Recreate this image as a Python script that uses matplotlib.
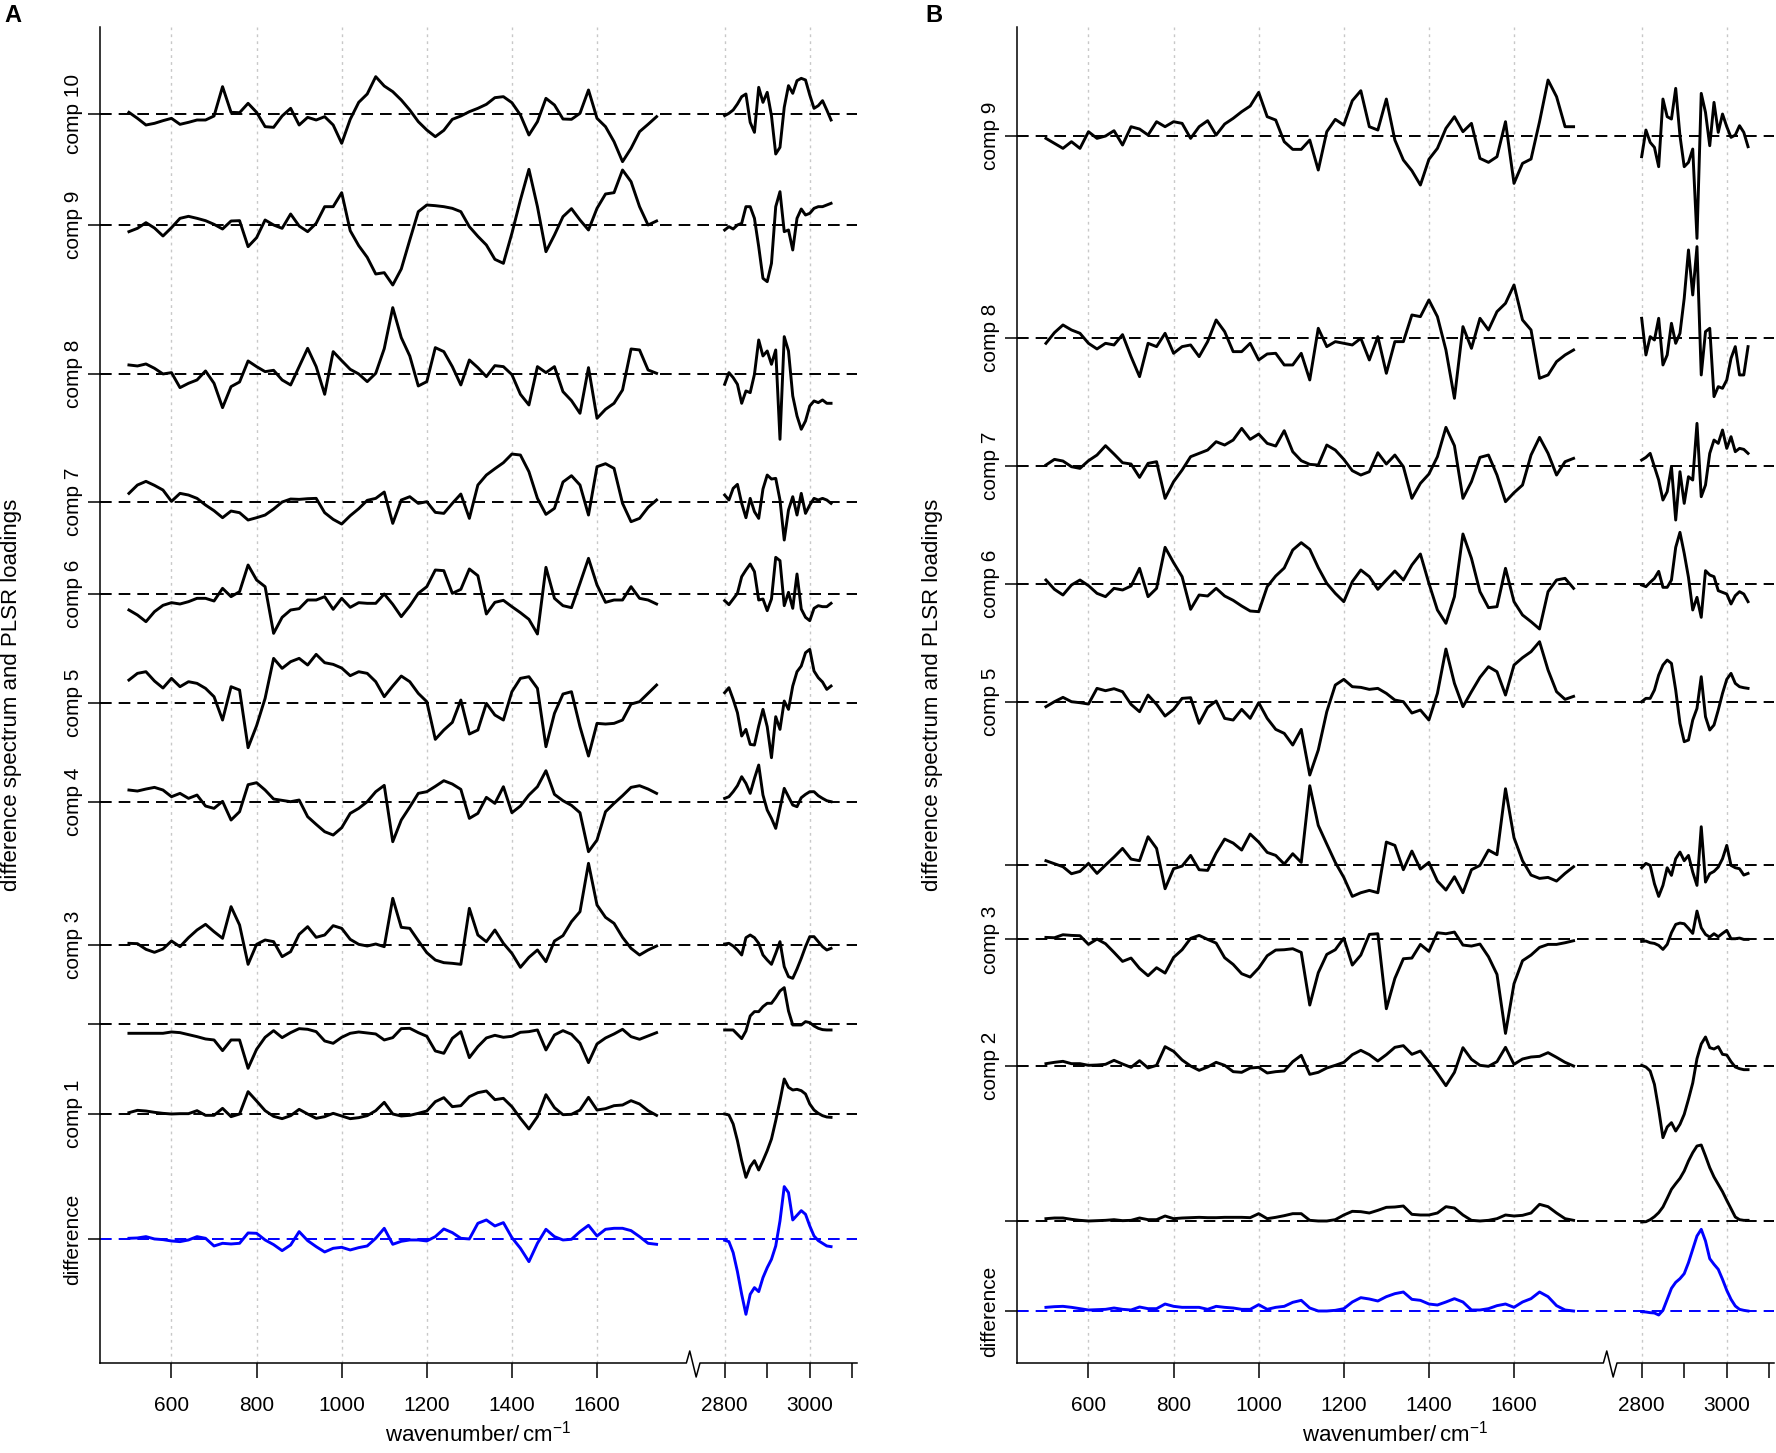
import numpy as np
import matplotlib.pyplot as plt

plt.rcParams['font.family'] = ['Liberation Sans', 'DejaVu Sans']
plt.rcParams['mathtext.default'] = 'regular'

# sampling grid of the two spectral windows (cm^-1)
wn_low = np.arange(500, 1741, 20)
wn_high = np.arange(2800, 3051, 10)
GAP = 900          # 1800-2700 cm-1 is cut out of the x axis
BREAK_AT = 1826    # axis break, in shifted units
SCALE = 1 / 3      # loading units -> stacking units

xticks_wn = [600, 800, 1000, 1200, 1400, 1600, 2800, 2900, 3000, 3100]
xtick_labels = ['600', '800', '1000', '1200', '1400', '1600', '2800', '', '3000', '']
grid_wn = [600, 800, 1000, 1200, 1400, 1600, 2800, 3000]

# ---------------- panel A ----------------
a_diff = [3, 4, 8, 1, -1, -5, -7, -2, 8, 3,
          -20, -12, -14, -12, 19, 18, -2, -16, -34, -17,
          23, -4, -22, -38, -27, -24, -32, -25, -20, 3,
          33, -15, -6, -2, -2, -5, 8, 31, 20, 3,
          1, 48, 58, 40, 50, 5, -27, -67, -12, 30,
          8, -2, 0, 23, 42, 10, 30, 33, 33, 26,
          8, -12, -15,
          # 2800-3050
          -3, -7, -40, -97, -165, -225, -165, -145, -157, -115,
          -85, -60, -20, 55, 158, 140, 58, 72, 86, 75,
          40, 10, -4, -12, -20, -22]
a_comp1 = [4, 11, 9, 5, 2, 0, 1, 1, 10, -4,
           -4, 17, -8, 0, 67, 39, 10, -7, -14, -5,
           14, 0, -13, -8, 2, -6, -14, -11, -5, 10,
           35, 0, -6, -4, 2, 9, 37, 49, 22, 25,
           52, 64, 69, 43, 47, 22, -13, -45, -8, 58,
           19, -2, -1, 12, 50, 12, 16, 25, 27, 40,
           30, 10, -4,
           0, -3, -30, -80, -140, -190, -158, -140, -168, -140,
           -110, -75, -20, 40, 105, 80, 72, 74, 70, 60,
           30, 12, 2, -5, -9, -10]
a_comp2 = [-27, -27, -27, -27, -27, -23, -25, -31, -37, -44,
           -47, -79, -47, -47, -132, -75, -39, -19, -40, -25,
           -13, -15, -22, -50, -57, -39, -27, -23, -26, -29,
           -47, -40, -13, -12, -25, -36, -80, -87, -42, -22,
           -100, -67, -41, -33, -39, -36, -24, -22, -17, -77,
           -32, -19, -30, -57, -115, -59, -41, -29, -15, -37,
           -45, -35, -25,
           -17, -17, -17, -30, -43, -20, 25, 38, 38, 53,
           63, 63, 80, 100, 110, 40, -2, -2, -2, 8,
           5, -5, -12, -16, -17, -17]
a_comp3 = [5, 4, -13, -22, -12, 12, -5, 22, 45, 62,
           40, 20, 115, 60, -58, 2, 15, 10, -35, -20,
           32, 55, 23, 30, 58, 50, 17, 2, -3, 3,
           -5, 140, 53, 50, 13, -23, -45, -53, -55, -58,
           110, 30, 10, 45, 5, -25, -67, -37, -15, -50,
           12, 28, 70, 100, 245, 120, 83, 65, 23, -10,
           -30, -15, -3,
           3, 5, -3, -15, -30, 22, 30, 22, 5, -30,
           -45, -58, -25, 10, -65, -95, -100, -72, -40, -5,
           25, 25, 10, -5, -15, -10]
a_comp4 = [35, 32, 38, 43, 35, 15, 25, 10, 20, -13,
           -20, 1, -55, -30, 51, 57, 35, 8, 4, 0,
           5, -45, -68, -90, -100, -78, -35, -20, 0, 30,
           49, -120, -55, -16, 25, 30, 46, 63, 53, 37,
           -50, -35, 13, -5, 45, -33, -13, 20, 45, 93,
           22, 3, -11, -33, -150, -115, -30, -5, 18, 43,
           48, 38, 25,
           10, 15, 30, 48, 75, 55, 25, 70, 110, 20,
           -25, -50, -80, -20, 40, 15, -10, -15, 12, 22,
           30, 30, 18, 10, 3, 0]
a_comp5 = [68, 88, 93, 65, 44, 73, 48, 63, 58, 43,
           18, -52, 48, 38, -135, -69, 13, 133, 103, 123,
           133, 113, 145, 120, 115, 104, 81, 93, 88, 63,
           18, 50, 80, 63, 28, 3, -110, -82, -59, 8,
           -94, -82, -2, -37, -52, 33, 73, 78, 43, -132,
           -32, 26, 33, -72, -160, -62, -64, -62, -52, -4,
           3, 28, 53,
           30, 45, 10, -30, -100, -80, -125, -127, -70, -20,
           -72, -165, -42, -80, 5, -20, 50, 93, 110, 150,
           160, 95, 75, 62, 40, 50]
a_comp6 = [-48, -63, -83, -53, -34, -26, -30, -23, -13, -13,
           -21, 17, -8, 7, 87, 42, 22, -118, -70, -48,
           -44, -18, -18, -8, -46, -13, -40, -26, -28, -28,
           0, -31, -68, -36, 2, 22, 72, 70, 2, 14,
           75, 55, -60, -25, -19, -38, -56, -76, -120, 80,
           -13, -35, -41, 32, 107, 27, -25, -18, -18, 22,
           -13, -18, -30,
           -20, -32, -15, 2, 52, 72, 90, 67, -18, -15,
           -50, -15, 110, 100, -35, 5, -43, 60, -45, -70,
           -80, -43, -35, -38, -38, -28]
a_comp7 = [25, 50, 61, 49, 35, 1, 25, 20, 10, -10,
           -27, -48, -28, -33, -55, -48, -40, -22, -1, 8,
           7, 9, 10, -33, -53, -67, -42, -21, 4, 10,
           29, -65, 5, 15, -5, 0, -32, -35, -5, 23,
           -50, 50, 80, 99, 117, 143, 140, 90, 10, -38,
           -20, 59, 78, 50, -40, 105, 114, 100, -5, -60,
           -50, -17, 5,
           20, 5, 40, 52, -5, -48, 10, -30, -50, 38,
           80, 68, 70, 5, -115, -25, 15, -40, 25, -35,
           -10, 10, 5, 10, 5, -5]
a_comp8 = [28, 25, 31, 18, 1, 5, -40, -27, -17, 10,
           -27, -100, -37, -23, 40, 23, 8, 12, -17, -32,
           23, 78, 23, -60, 68, 41, 15, 1, -22, 3,
           77, 200, 110, 55, -35, -22, 80, 68, 23, -32,
           43, 20, -7, 26, 23, -1, -60, -92, 23, 5,
           23, -52, -79, -117, 20, -132, -105, -87, -47, 76,
           73, 13, 3,
           -30, 5, -10, -30, -87, -50, -55, 0, 103, 55,
           70, 30, 73, -195, 113, 70, -65, -125, -165, -140,
           -95, -80, -85, -77, -87, -87]
a_comp9 = [-20, -10, 7, -9, -33, -8, 20, 26, 20, 13,
           2, -12, 12, 13, -65, -38, 15, 0, -10, 33,
           -3, -20, 5, 55, 55, 97, -17, -62, -97, -147,
           -143, -180, -132, -45, 40, 60, 58, 55, 50, 40,
           -5, -34, -60, -103, -115, -25, 75, 167, 55, -80,
           -30, 25, 49, 15, -15, 50, 93, 97, 165, 130,
           55, 0, 12,
           -15, -5, -12, 0, 5, 55, 55, 20, -65, -160,
           -170, -115, 55, 100, -20, -15, -75, 20, 48, 30,
           35, 50, 55, 55, 60, 65]
a_comp10 = [5, -13, -33, -28, -20, -13, -31, -25, -18, -18,
            -6, 82, 5, 4, 32, 5, -38, -40, -6, 17,
            -33, -10, -18, -8, -33, -88, -16, 35, 60, 112,
            84, 67, 42, 12, -23, -48, -68, -49, -16, -6,
            7, 17, 29, 49, 52, 34, -3, -63, -23, 47,
            27, -15, -16, 2, 72, -13, -38, -83, -143, -103,
            -53, -31, -8,
            -5, 2, 12, 30, 52, 60, -25, -55, 80, 35,
            65, -5, -120, -100, 20, 85, 62, 100, 107, 102,
            57, 17, 25, 40, 12, -18]

a_traces = [a_diff, a_comp1, a_comp2, a_comp3, a_comp4, a_comp5,
            a_comp6, a_comp7, a_comp8, a_comp9, a_comp10]
a_offsets = [123.7, 249, 338.7, 418, 561.3, 660.3, 769, 861.3, 988.7, 1138, 1249]
a_labels = ['difference', 'comp 1', '', 'comp 3', 'comp 4', 'comp 5',
            'comp 6', 'comp 7', 'comp 8', 'comp 9', 'comp 10']

# ---------------- panel B ----------------
b_diff = [11, 13, 14, 11, 7, 3, 4, 5, 9, 5,
          3, 12, 7, 7, 21, 14, 11, 11, 11, 5,
          14, 11, 9, 5, 5, 19, 5, 11, 14, 26,
          32, 9, 0, 0, 2, 7, 27, 40, 36, 30,
          43, 52, 57, 35, 32, 21, 18, 27, 37, 27,
          3, 3, 7, 16, 21, 11, 27, 37, 57, 43,
          16, 3, 0,
          -2, -3, -5, -6, -12, 2, 35, 68, 86, 97,
          112, 145, 185, 225, 245, 210, 157, 140, 125, 95,
          62, 35, 15, 5, 2, 0]
b_comp1 = [7, 9, 9, 5, 2, 0, 1, 2, 4, 1,
           2, 9, 4, 4, 15, 7, 9, 10, 11, 10,
           10, 11, 11, 11, 10, 22, 7, 11, 16, 22,
           22, 2, 0, 0, 4, 18, 29, 28, 24, 32,
           41, 42, 45, 20, 18, 18, 24, 43, 39, 18,
           2, 0, 2, 7, 18, 15, 17, 24, 50, 43,
           24, 7, 2,
           -3, -2, 4, 13, 25, 42, 68, 95, 112, 128,
           150, 180, 205, 225, 228, 195, 160, 132, 110, 88,
           62, 37, 12, 4, 2, 2]
b_comp2 = [7, 11, 14, 7, 7, 2, 3, 5, 17, 6,
           -4, 16, -6, 2, 58, 44, 18, 0, -13, -3,
           11, 2, -17, -19, -6, -4, -21, -17, -15, 13,
           32, -25, -19, -6, 2, 11, 34, 47, 34, 15,
           34, 56, 61, 35, 45, 13, -22, -59, -19, 55,
           20, 2, -1, 13, 56, 5, 21, 27, 29, 40,
           26, 11, 0,
           2, -3, -15, -55, -130, -215, -183, -170, -195, -175,
           -145, -100, -51, 22, 66, 87, 55, 51, 58, 35,
           33, 13, -3, -8, -11, -11]
b_comp3 = [6, 5, 14, 12, 11, -15, 1, -13, -39, -66,
           -56, -87, -109, -85, -101, -54, -31, 3, 12, 0,
           -11, -55, -75, -103, -113, -86, -49, -32, -31, -28,
           -39, -197, -100, -45, -31, 4, -77, -47, 15, 17,
           -208, -117, -58, -56, -15, -36, 20, 17, 22, -17,
           -20, -14, -52, -105, -282, -133, -64, -47, -24, -15,
           -15, -10, -4,
           -6, -5, -10, -12, -18, -30, -15, 20, 45, 49,
           47, 33, 18, 85, 35, 15, 7, 17, 8, 18,
           27, 2, 2, 4, 0, 0]
b_comp4 = [14, 5, -4, -25, -18, 6, -24, 1, 25, 51,
           19, 14, 86, 51, -70, -10, -2, 30, -13, -15,
           37, 79, 67, 46, 94, 70, 39, 30, 4, 35,
           9, 239, 120, 64, 9, -36, -93, -82, -75, -82,
           70, 60, -13, 43, -11, 9, -47, -74, -34, -82,
           -13, 0, 46, 32, 230, 83, 14, -29, -39, -36,
           -47, -24, -4,
           -7, 6, 0, -55, -93, -60, -7, -30, 20, 40,
           14, 30, -20, -60, 116, -50, -25, -18, -5, 20,
           60, 0, -7, -10, -29, -24]
b_comp5 = [-15, 0, 13, 0, -3, -7, 40, 33, 39, 30,
           -8, -30, 20, -8, -43, -23, 10, 12, -65, -17,
           2, -50, -55, -23, -50, -3, -50, -83, -95, -130,
           -83, -220, -145, -30, 50, 67, 45, 43, 37, 40,
           25, 5, 0, -34, -25, -55, 25, 158, 55, -15,
           30, 73, 105, 90, 20, 110, 132, 150, 180, 95,
           30, 7, 16,
           0, 10, 10, 35, 80, 110, 125, 115, 35, -65,
           -120, -115, -55, -20, 75, -45, -85, -70, -25, 25,
           67, 85, 55, 45, 42, 40]
b_comp6 = [12, -16, -33, -3, 12, -5, -28, -38, -13, -18,
           -6, 47, -38, -13, 110, 64, 22, -76, -33, -36,
           -13, -36, -49, -66, -81, -83, -8, 24, 48, 102,
           124, 104, 49, 2, -28, -53, 7, 42, 22, -16,
           12, 39, 12, 57, 90, 2, -78, -118, -38, 150,
           77, -23, -71, -68, 47, -53, -93, -113, -135, -23,
           12, 17, -13,
           -3, -8, 5, 17, 38, -10, -10, 12, 110, 155,
           92, 20, -78, -40, -100, 40, 27, 22, -20, -25,
           -30, -60, -35, -23, -30, -53]
b_comp7 = [2, 19, 14, -3, -8, 15, 32, 60, 35, 9,
           5, -35, 7, 12, -98, -48, -13, 27, 37, 47,
           72, 62, 77, 112, 79, 95, 67, 59, 105, 42,
           15, 4, 2, 62, 47, 19, -15, -28, -18, 39,
           5, 32, -3, -98, -53, -25, 27, 115, 60, -98,
           -48, 25, 32, -28, -108, -81, -58, 32, 85, 37,
           -28, 12, 22,
           17, 25, 37, -3, -43, -103, -78, -3, -163, -18,
           -113, -33, -43, 127, -93, -58, 37, 77, 67, 107,
           52, 87, 42, 52, 49, 37]
b_comp8 = [-15, 17, 40, 25, 15, -15, -32, -15, -20, 11,
           -55, -115, -15, -25, 15, -45, -25, -20, -55, -10,
           55, 20, -40, -40, -15, -65, -47, -45, -80, -80,
           -45, -125, 30, -25, -10, -15, -20, 0, -65, 5,
           -105, -10, -10, 70, 65, 115, 65, -35, -180, 35,
           -30, 60, 25, 80, 105, 160, 55, 25, -120, -110,
           -70, -50, -35,
           60, -50, 5, -5, 60, -80, -50, 45, -15, 15,
           120, 265, 130, 275, -110, 20, 30, -175, -145, -150,
           -125, -60, -25, -110, -110, -25]
b_comp9 = [-8, -23, -38, -18, -38, 12, -8, -1, 15, -28,
           27, 20, 2, 42, 27, 42, 37, -8, 27, 45,
           2, 35, 52, 72, 89, 130, 57, 47, -18, -41,
           -41, -13, -103, 12, 49, 32, 105, 135, 27, 17,
           110, -13, -73, -105, -148, -71, -38, 22, 57, 12,
           37, -68, -80, -63, 42, -143, -83, -70, 42, 167,
           117, 27, 27,
           -63, 17, -20, -35, -93, 110, 57, 50, 142, 0,
           -93, -80, -40, -308, 127, 70, -30, 100, 10, 65,
           27, -5, 2, 30, 10, -33]

b_traces = [b_diff, b_comp1, b_comp2, b_comp3, b_comp4,
            b_comp5, b_comp6, b_comp7, b_comp8, b_comp9]
b_offsets = [52, 142, 297, 423.6, 497.6, 661.3, 779, 897.3, 1024.7, 1227.3]
b_labels = ['difference', '', 'comp 2', 'comp 3', '', 'comp 5',
            'comp 6', 'comp 7', 'comp 8', 'comp 9']

W, H = 1776, 1453
XLIM = (432, 2211)


def shift(wn):
    wn = np.asarray(wn, dtype=float)
    return np.where(wn > 2000, wn - GAP, wn)


def draw_panel(ax, traces, offsets, labels):
    n_low = len(wn_low)
    for x in shift(grid_wn):
        ax.axvline(x, color='#c8c8c8', lw=1.0, dashes=(2, 3), zorder=0)
    for i, (vals, off) in enumerate(zip(traces, offsets)):
        col = '#0000ff' if i == 0 else 'black'
        vals = np.asarray(vals, dtype=float)
        assert len(vals) == n_low + len(wn_high)
        ax.axhline(off, color=col, lw=1.4, dashes=(6, 3.6), zorder=1)
        ax.plot(wn_low, off + vals[:n_low] * SCALE, color=col, lw=2.1,
                solid_joinstyle='round', zorder=3)
        ax.plot(shift(wn_high), off + vals[n_low:] * SCALE, color=col, lw=2.1,
                solid_joinstyle='round', zorder=3)

    ax.set_xlim(*XLIM)
    ax.set_ylim(0, 1336)
    for s in ['top', 'right', 'bottom']:
        ax.spines[s].set_visible(False)
    ax.spines['left'].set_linewidth(1.1)

    # bottom axis line with a break mark
    b = BREAK_AT
    ax.plot([XLIM[0], b - 16, b - 8, b + 7, b + 16, XLIM[1]],
            [0, 0, 0.009, -0.0105, 0, 0],
            transform=ax.get_xaxis_transform(), color='black', lw=1.1,
            clip_on=False, zorder=5)

    ax.set_xticks(shift(xticks_wn))
    ax.set_xticklabels(xtick_labels)
    ax.tick_params(axis='x', length=10.8, width=1.1, pad=13, labelsize=15)
    ax.set_yticks(offsets)
    ax.set_yticklabels(labels, rotation=90, va='center')
    ax.tick_params(axis='y', length=8.6, width=1.1, pad=4, labelsize=15)


fig = plt.figure(figsize=(W / 100, H / 100), dpi=100)
ax_a = fig.add_axes([100 / W, 90 / H, 757 / W, 1336 / H])
ax_b = fig.add_axes([1017 / W, 90 / H, 757 / W, 1336 / H])

draw_panel(ax_a, a_traces, a_offsets, a_labels)
draw_panel(ax_b, b_traces, b_offsets, b_labels)

for x_letter, x_ylab, x_xlab, letter in [(4, 12, 478, 'A'), (925, 932, 1395, 'B')]:
    fig.text(x_letter / W, 1 - 4 / H, letter, fontsize=17, fontweight='bold',
             ha='left', va='top')
    fig.text(x_ylab / W, 1 - 695 / H, 'difference spectrum and PLSR loadings',
             rotation=90, ha='center', va='center', fontsize=16)
    fig.text(x_xlab / W, 1 - 1434 / H, r'wavenumber/$\,$cm$^{-1}$',
             ha='center', va='center', fontsize=16)

fig.savefig('out.png', dpi=100)
